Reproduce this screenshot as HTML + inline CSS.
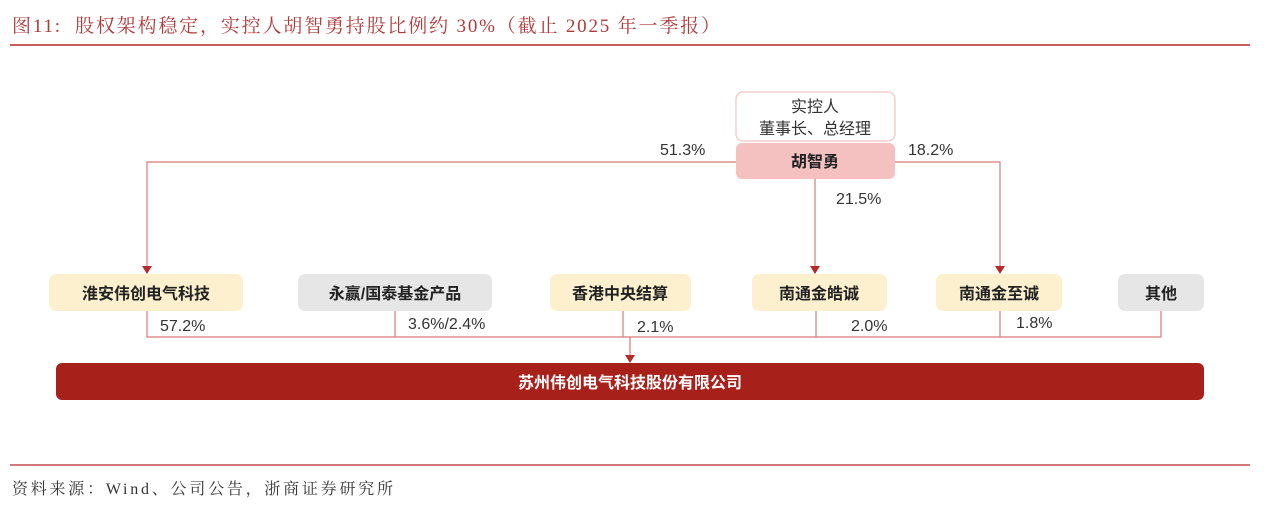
<!DOCTYPE html>
<html><head><meta charset="utf-8"><style>
html,body{margin:0;padding:0;background:#fff;}
svg{display:block;}
.t{font-family:"Liberation Sans","Noto Sans CJK SC",sans-serif;}
.s{font-family:"Liberation Serif","Noto Serif CJK SC",serif;}
</style></head><body>
<svg width="1269" height="507" viewBox="0 0 1269 507">
<text class="s" x="12" y="32" font-size="19" fill="#b03a3a" textLength="708" lengthAdjust="spacing">图11:&#160;&#160;股权架构稳定，实控人胡智勇持股比例约 30%（截止 2025 年一季报）</text>
<line x1="10" y1="45" x2="1250" y2="45" stroke="#b8292a" stroke-width="1.5"/>

<g stroke="#d9797b" stroke-width="1.2" fill="none">
<polyline points="736,162 147,162 147,268"/>
<polyline points="895,162 1000,162 1000,268"/>
<polyline points="815,179 815,268"/>
<polyline points="147,310 147,337 1161,337 1161,310"/>
<line x1="395" y1="310" x2="395" y2="337"/>
<line x1="623" y1="310" x2="623" y2="337"/>
<line x1="816" y1="310" x2="816" y2="337"/>
<line x1="1000" y1="310" x2="1000" y2="337"/>
<line x1="630" y1="337" x2="630" y2="357"/>
</g>
<g fill="#b8292a">
<path d="M142,266 L152,266 L147,274 Z"/>
<path d="M810,266 L820,266 L815,274 Z"/>
<path d="M995,266 L1005,266 L1000,274 Z"/>
<path d="M625,355 L635,355 L630,363 Z"/>
</g>

<rect x="736" y="92" width="159" height="49" rx="7" fill="#fff" stroke="#f0c4c4" stroke-width="1.2"/>
<text class="t" x="815" y="112" font-size="16" fill="#333" text-anchor="middle">实控人</text>
<text class="t" x="815" y="134" font-size="16" fill="#333" text-anchor="middle">董事长、总经理</text>
<rect x="736" y="143" width="159" height="36" rx="6" fill="#f4c0c0"/>
<text class="t" x="815" y="167" font-size="16" font-weight="bold" fill="#222" text-anchor="middle">胡智勇</text>

<g class="t" font-size="16" fill="#333">
<text x="660" y="155">51.3%</text>
<text x="908" y="155">18.2%</text>
<text x="836" y="204">21.5%</text>
<text x="160" y="331">57.2%</text>
<text x="408" y="329">3.6%/2.4%</text>
<text x="637" y="332">2.1%</text>
<text x="851" y="331">2.0%</text>
<text x="1016" y="328">1.8%</text>
</g>

<g class="t" font-size="16" font-weight="bold" fill="#222" text-anchor="middle">
<g><rect x="49" y="274" width="194" height="37" rx="7" fill="#fcf0cf"/><text x="146" y="299">淮安伟创电气科技</text></g>
<g><rect x="298" y="274" width="194" height="37" rx="7" fill="#e6e6e6"/><text x="395" y="299">永赢/国泰基金产品</text></g>
<g><rect x="550" y="274" width="141" height="37" rx="7" fill="#fcf0cf"/><text x="620" y="299">香港中央结算</text></g>
<g><rect x="752" y="274" width="135" height="37" rx="7" fill="#fcf0cf"/><text x="819" y="299">南通金皓诚</text></g>
<g><rect x="936" y="274" width="126" height="37" rx="7" fill="#fcf0cf"/><text x="999" y="299">南通金至诚</text></g>
<g><rect x="1118" y="274" width="86" height="37" rx="7" fill="#e6e6e6"/><text x="1161" y="299">其他</text></g>
</g>

<rect x="56" y="363" width="1148" height="37" rx="6" fill="#a8201a"/>
<text class="t" x="630" y="388" font-size="16" font-weight="bold" fill="#fff" text-anchor="middle">苏州伟创电气科技股份有限公司</text>

<line x1="10" y1="465" x2="1250" y2="465" stroke="#b8292a" stroke-width="1.2"/>
<text class="s" x="12" y="494" font-size="16" fill="#333" textLength="381" lengthAdjust="spacing">资料来源：Wind、公司公告，浙商证券研究所</text>
</svg>
</body></html>
